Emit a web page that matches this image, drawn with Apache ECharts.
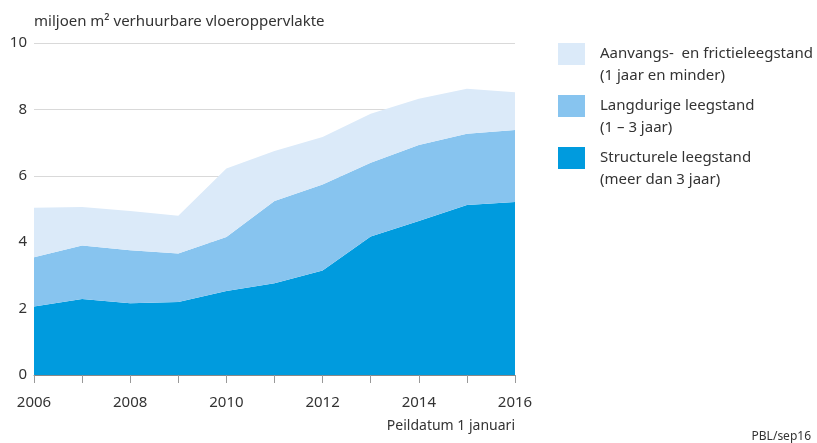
<!DOCTYPE html>
<html lang="nl">
<head>
  <meta charset="UTF-8">
  <title>Leegstand kantoren</title>
  <script src="https://cdn.jsdelivr.net/npm/echarts@6/dist/echarts.min.js"></script>
  <style>
    body { margin: 0; padding: 0; background: #fff; }
    #chart { width: 817px; height: 443px; }
  </style>
</head>
<body>
<div id="chart"></div>
<script>
  // jaren (peildatum 1 januari)
  const years = ['2006', '2007', '2008', '2009', '2010', '2011', '2012', '2013', '2014', '2015', '2016'];

  // miljoen m2, per categorie (gestapeld)
  const structureel = [2.06, 2.29, 2.16, 2.20, 2.53, 2.76, 3.15, 4.17, 4.64, 5.12, 5.21];
  const langdurig   = [1.49, 1.61, 1.60, 1.46, 1.63, 2.48, 2.59, 2.22, 2.29, 2.15, 2.17];
  const aanvang     = [1.49, 1.16, 1.18, 1.14, 2.06, 1.51, 1.43, 1.48, 1.39, 1.35, 1.14];

  const names = ['Structurele leegstand', 'Langdurige leegstand', 'Aanvangs-  en frictieleegstand'];
  const subNames = ['(meer dan 3 jaar)', '(1 – 3 jaar)', '(1 jaar en minder)'];
  const colors = ['#009bde', '#87c4ef', '#dbeaf9'];

  const font = '"Noto Sans", "Open Sans", sans-serif';
  const textColor = '#333';

  function areaSeries(i, values) {
    return {
      name: names[i],
      type: 'line',
      stack: 'totaal',
      data: values,
      showSymbol: false,
      symbol: 'none',
      lineStyle: { width: 0 },
      areaStyle: { color: colors[i], opacity: 1 },
      itemStyle: { color: colors[i] },
      silent: true
    };
  }

  const chart = echarts.init(document.getElementById('chart'));

  const option = {
    animation: false,
    textStyle: { fontFamily: font },
    grid: { left: 34, right: 302, top: 43, bottom: 68 },
    legend: {
      orient: 'vertical',
      left: 558,
      top: 21,
      padding: 0,
      itemWidth: 27,
      itemHeight: 22,
      itemGap: -14,
      icon: 'rect',
      selectedMode: false,
      data: [names[2], names[1], names[0]],
      // lege eerste regel zodat de naam naast het blokje staat
      formatter: function (name) {
        const i = names.indexOf(name);
        return ' \n' + name + '\n' + subNames[i];
      },
      textStyle: {
        color: textColor,
        fontSize: 15,
        lineHeight: 22,
        fontFamily: font,
        padding: [0, 0, 0, 10]
      }
    },
    xAxis: {
      type: 'category',
      data: years,
      boundaryGap: false,
      axisLine: { lineStyle: { color: '#888', width: 1 } },
      axisTick: { show: true, interval: 0, length: 8, lineStyle: { color: '#999' } },
      axisLabel: { interval: 1, color: textColor, fontSize: 15, margin: 20, fontFamily: font },
      splitLine: { show: false }
    },
    yAxis: {
      type: 'value',
      min: 0,
      max: 10,
      interval: 2,
      axisLine: { show: false },
      axisTick: { show: false },
      axisLabel: { color: textColor, fontSize: 15, margin: 7, fontFamily: font },
      splitLine: { lineStyle: { color: '#d9d9d9', width: 1 } }
    },
    graphic: [
      {
        type: 'text', left: 34, top: 14,
        style: { text: 'miljoen m² verhuurbare vloeroppervlakte', fill: textColor, font: '15px ' + font }
      },
      {
        type: 'text', right: 302, top: 419,
        style: { text: 'Peildatum 1 januari', fill: textColor, font: '14px ' + font }
      },
      {
        type: 'text', right: 6, top: 431,
        style: { text: 'PBL/sep16', fill: textColor, font: '12px ' + font }
      }
    ],
    series: [
      areaSeries(0, structureel),
      areaSeries(1, langdurig),
      areaSeries(2, aanvang)
    ]
  };

  chart.setOption(option);
</script>
</body>
</html>
